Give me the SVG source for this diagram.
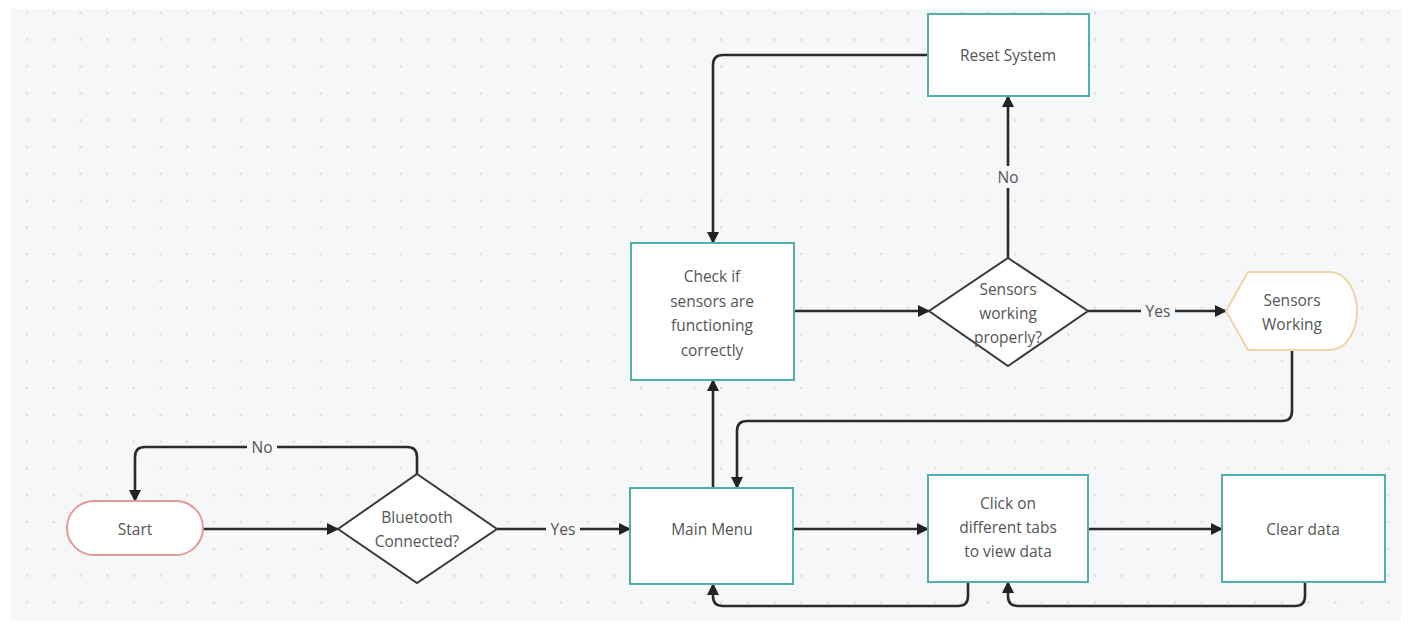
<svg xmlns="http://www.w3.org/2000/svg" width="1410" height="627" viewBox="0 0 1410 627">
  <defs>
    <pattern id="dots" x="14" y="0" width="26.7" height="26.8" patternUnits="userSpaceOnUse">
      <circle cx="13" cy="13" r="1.3" fill="#d9dbe0"/>
    </pattern>
    <marker id="arrow" viewBox="0 0 12 12" refX="11" refY="6" markerWidth="12" markerHeight="12" markerUnits="userSpaceOnUse" orient="auto">
      <path d="M0,0 L12,6 L0,12 Z" fill="#222"/>
    </marker>
    <style>
      .lbl { font-family: "Open Sans", "Noto Sans", sans-serif; font-size: 15.5px; fill: #555; text-anchor: middle; dominant-baseline: central; }
      .proc { fill: #fff; stroke: #4fb0ad; stroke-width: 2; }
      .dec { fill: #fff; stroke: #3a3a3a; stroke-width: 2; }
      .edge { fill: none; stroke: #2b2b2b; stroke-width: 2.6; }
      .tag { fill: #f6f7f9; }
    </style>
  </defs>

  <!-- canvas -->
  <rect x="0" y="0" width="1410" height="627" fill="#ffffff"/>
  <rect x="11" y="9" width="1390" height="612" fill="#f6f7f9"/>
  <rect x="11" y="9" width="1390" height="612" fill="url(#dots)"/>

  <!-- connectors -->
  <g id="connectors">
    <path class="edge" d="M203,529 H338" marker-end="url(#arrow)"/>
    <path class="edge" d="M417,474 V457 Q417,447 407,447 H145 Q135,447 135,457 V501" marker-end="url(#arrow)"/>
    <path class="edge" d="M497,529 H630" marker-end="url(#arrow)"/>
    <path class="edge" d="M713,488 V380" marker-end="url(#arrow)"/>
    <path class="edge" d="M794,311 H929" marker-end="url(#arrow)"/>
    <path class="edge" d="M1008,258 V96" marker-end="url(#arrow)"/>
    <path class="edge" d="M928,55 H723 Q713,55 713,65 V243" marker-end="url(#arrow)"/>
    <path class="edge" d="M1088,311 H1226" marker-end="url(#arrow)"/>
    <path class="edge" d="M1292,350 V411 Q1292,421 1282,421 H747 Q737,421 737,431 V488" marker-end="url(#arrow)"/>
    <path class="edge" d="M793,529 H928" marker-end="url(#arrow)"/>
    <path class="edge" d="M1088,529 H1222" marker-end="url(#arrow)"/>
    <path class="edge" d="M968,582 V596 Q968,606 958,606 H723 Q713,606 713,596 V584" marker-end="url(#arrow)"/>
    <path class="edge" d="M1305,582 V596 Q1305,606 1295,606 H1018 Q1008,606 1008,596 V582" marker-end="url(#arrow)"/>

    <!-- edge labels -->
    <rect class="tag" x="247" y="438" width="30" height="18"/>
    <text class="lbl" x="262" y="447">No</text>
    <rect class="tag" x="546" y="520" width="34" height="18"/>
    <text class="lbl" x="563" y="529">Yes</text>
    <rect class="tag" x="994" y="166" width="28" height="22"/>
    <text class="lbl" x="1008" y="177">No</text>
    <rect class="tag" x="1141" y="302" width="34" height="18"/>
    <text class="lbl" x="1158" y="311">Yes</text>
  </g>

  <!-- nodes -->
  <g id="start">
    <rect x="67" y="501" width="136" height="54" rx="27" ry="27" fill="#fff" stroke="#e39a9a" stroke-width="2"/>
    <text class="lbl" x="135" y="529">Start</text>
  </g>

  <g id="bluetooth-connected">
    <polygon class="dec" points="417,474 497,529 417,583 338,529"/>
    <text class="lbl" x="417" y="517">Bluetooth</text>
    <text class="lbl" x="417" y="541">Connected?</text>
  </g>

  <g id="main-menu">
    <rect class="proc" x="630" y="488" width="163" height="96"/>
    <text class="lbl" x="712" y="529">Main Menu</text>
  </g>

  <g id="check-sensors">
    <rect class="proc" x="631" y="243" width="163" height="137"/>
    <text class="lbl" x="712" y="276">Check if</text>
    <text class="lbl" x="712" y="301">sensors are</text>
    <text class="lbl" x="712" y="325">functioning</text>
    <text class="lbl" x="712" y="350">correctly</text>
  </g>

  <g id="sensors-working-properly">
    <polygon class="dec" points="1008,258 1088,311 1008,366 929,311"/>
    <text class="lbl" x="1008" y="289">Sensors</text>
    <text class="lbl" x="1008" y="313">working</text>
    <text class="lbl" x="1008" y="337">properly?</text>
  </g>

  <g id="reset-system">
    <rect class="proc" x="928" y="14" width="161" height="82"/>
    <text class="lbl" x="1008" y="55">Reset System</text>
  </g>

  <g id="sensors-working">
    <path d="M1226,311 L1248,272 H1330 A27,39 0 0 1 1330,350 H1248 Z" fill="#fff" stroke="#f0d6a4" stroke-width="2"/>
    <text class="lbl" x="1292" y="300">Sensors</text>
    <text class="lbl" x="1292" y="324">Working</text>
  </g>

  <g id="click-tabs">
    <rect class="proc" x="928" y="475" width="160" height="107"/>
    <text class="lbl" x="1008" y="503">Click on</text>
    <text class="lbl" x="1008" y="527">different tabs</text>
    <text class="lbl" x="1008" y="551">to view data</text>
  </g>

  <g id="clear-data">
    <rect class="proc" x="1222" y="475" width="163" height="107"/>
    <text class="lbl" x="1303" y="529">Clear data</text>
  </g>
</svg>
